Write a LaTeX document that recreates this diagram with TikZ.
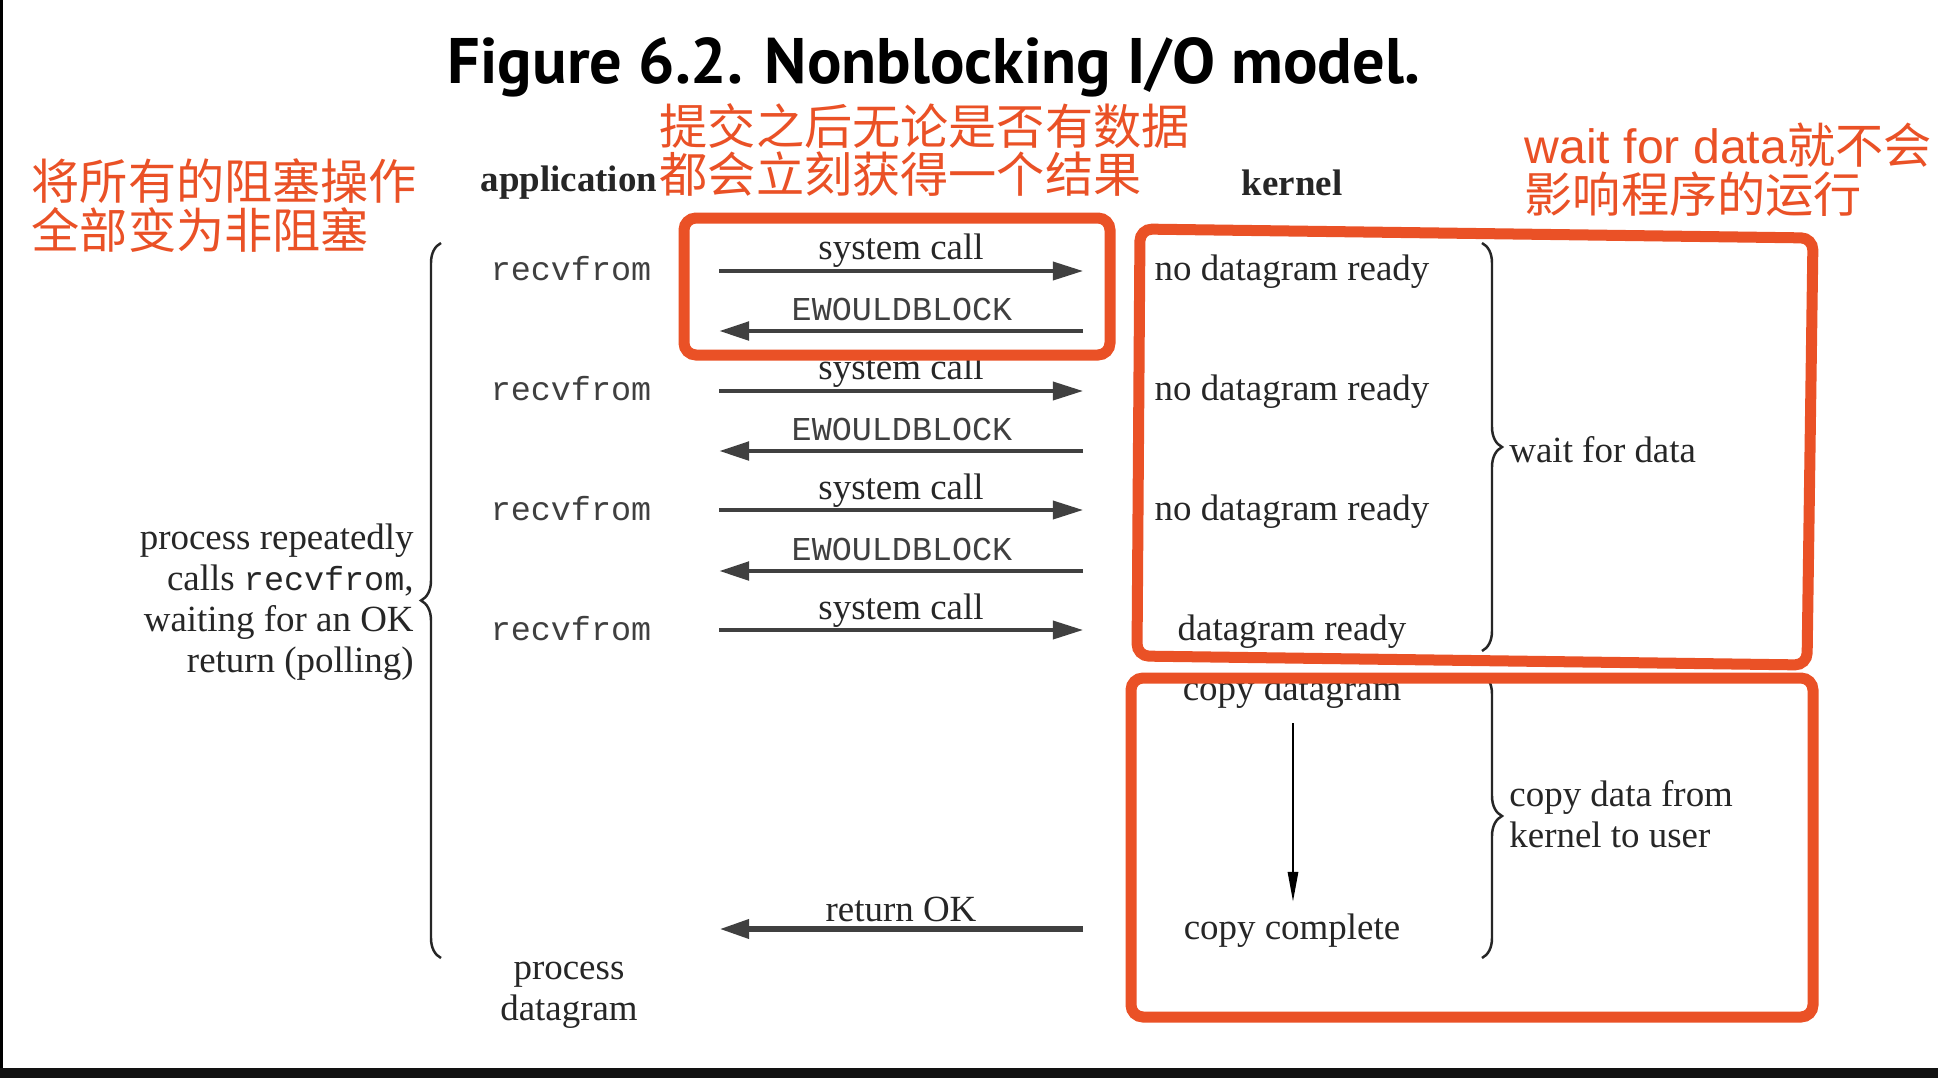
\documentclass[tikz,border=0pt]{standalone}
\usepackage{fontspec}
\setmainfont{Liberation Serif}
\setmonofont{Liberation Mono}
\newfontfamily\titlefont{PT Sans}
\newfontfamily\cjk{Noto Sans CJK SC}
\newfontfamily\latn{Liberation Sans}
\usepackage{xcolor}
\usepackage{tikz}
\usetikzlibrary{arrows.meta,decorations.pathreplacing}
\definecolor{markred}{RGB}{234,81,38}

\begin{document}
\begin{tikzpicture}[x=0.01cm, y=-0.01cm, every node/.style={align=center}]
\tikzset{
  txt/.style={font=\fontsize{10.5}{11.7}\selectfont, text=black!85, yshift=-0.04cm},
  head/.style={font=\fontsize{10.5}{11.7}\selectfont\bfseries, text=black!85, yshift=-0.04cm},
  call/.style={font=\fontsize{9.5}{11}\selectfont\ttfamily, text=black!75},
  note/.style={font=\fontsize{13.7}{13.9}\selectfont\cjk, text=markred, align=left, anchor=west, inner sep=0pt},
  req/.style={-{Triangle[length=0.3cm,width=0.18cm]}, line width=1pt, draw=black!75},
  ans/.style={req, line width=1.4pt},
  hilite/.style={draw=markred, line width=0.11cm, rounded corners=0.12cm},
  curly/.style={decorate, decoration={brace, amplitude=0.2cm}, line width=0.7pt, draw=black!85}
}
\useasboundingbox (0,0) rectangle (1938,1078);
\fill[white] (0,0) rectangle (1938,1078);
\fill[black] (0,0) rectangle (3,1068);
\fill[black!93] (0,1068) rectangle (1938,1078);

\node[font=\titlefont\fontsize{18.3}{20}\selectfont\bfseries] (title) at (934,67) {Figure 6.2. Nonblocking I/O model.};
\node[head] (app) at (569,179) {application};
\node[head] (ker) at (1292,179) {kernel};

% application side
\node[call] (rf1) at (571,269) {recvfrom};
\node[call] (rf2) at (571,389) {recvfrom};
\node[call] (rf3) at (571,509) {recvfrom};
\node[call] (rf4) at (571,629) {recvfrom};
\node[txt, align=right, anchor=east] (poll) at (426,598) {process repeatedly\\calls {\fontsize{9.5}{11.7}\selectfont\ttfamily recvfrom},\\waiting for an OK\\return (polling)};
\node[txt] (proc) at (569,991) {process\\datagram};

% kernel side
\node[txt] (nd1) at (1292,268) {no datagram ready};
\node[txt] (nd2) at (1292,388) {no datagram ready};
\node[txt] (nd3) at (1292,508) {no datagram ready};
\node[txt] (dr) at (1292,628) {datagram ready};
\node[txt] (cd) at (1292,688) {copy datagram};
\node[txt] (cc) at (1292,927) {copy complete};
\node[txt, anchor=west] (wfd) at (1497,446) {wait for data};
\node[txt, anchor=west, align=left] (cdk) at (1497,810) {copy data from\\kernel to user};

% calls and returns
\node[txt] (sc1) at (901,247) {system call};
\node[call] (ew1) at (902,309) {EWOULDBLOCK};
\node[txt] (sc2) at (901,367) {system call};
\node[call] (ew2) at (902,429) {EWOULDBLOCK};
\node[txt] (sc3) at (901,487) {system call};
\node[call] (ew3) at (902,549) {EWOULDBLOCK};
\node[txt] (sc4) at (901,607) {system call};
\node[txt] (rok) at (901,905) {return OK};

\coordinate (au1) at (719,271); \coordinate (ku1) at (1083,271);
\coordinate (kd1) at (1083,331); \coordinate (ad1) at (719,331);
\coordinate (au2) at (719,391); \coordinate (ku2) at (1083,391);
\coordinate (kd2) at (1083,451); \coordinate (ad2) at (719,451);
\coordinate (au3) at (719,510); \coordinate (ku3) at (1083,510);
\coordinate (kd3) at (1083,571); \coordinate (ad3) at (719,571);
\coordinate (au4) at (719,630); \coordinate (ku4) at (1083,630);
\coordinate (kok) at (1083,929); \coordinate (aok) at (719,929);
\coordinate (cpa) at (1293,723); \coordinate (cpb) at (1293,902);

\draw[req] (au1) -- (ku1);
\draw[ans] (kd1) -- (ad1);
\draw[req] (au2) -- (ku2);
\draw[ans] (kd2) -- (ad2);
\draw[req] (au3) -- (ku3);
\draw[ans] (kd3) -- (ad3);
\draw[req] (au4) -- (ku4);
\draw[ans, line width=1.8pt] (kok) -- (aok);
\draw[-{Triangle[length=0.3cm,width=0.1cm]}, line width=0.8pt] (cpa) -- (cpb);

% braces
\draw[curly] (441,958) -- (441,243);
\draw[curly] (1482,243) -- (1482,651);
\draw[curly] (1482,674) -- (1482,958);

% red marks
\draw[hilite] (684,218) rectangle (1110,355);
\draw[hilite] (1140,229) -- (1813,238) -- (1807,665) -- (1137,656) -- cycle;
\draw[hilite] (1131,678) rectangle (1813,1017);

\node[note] (n1) at (31,206) {将所有的阻塞操作\\全部变为非阻塞};
\node[note] (n2) at (659,150) {提交之后无论是否有数据\\都会立刻获得一个结果};
\node[note] (n3) at (1524,170) {{\latn wait for data}就不会\\影响程序的运行};
\end{tikzpicture}
\end{document}
